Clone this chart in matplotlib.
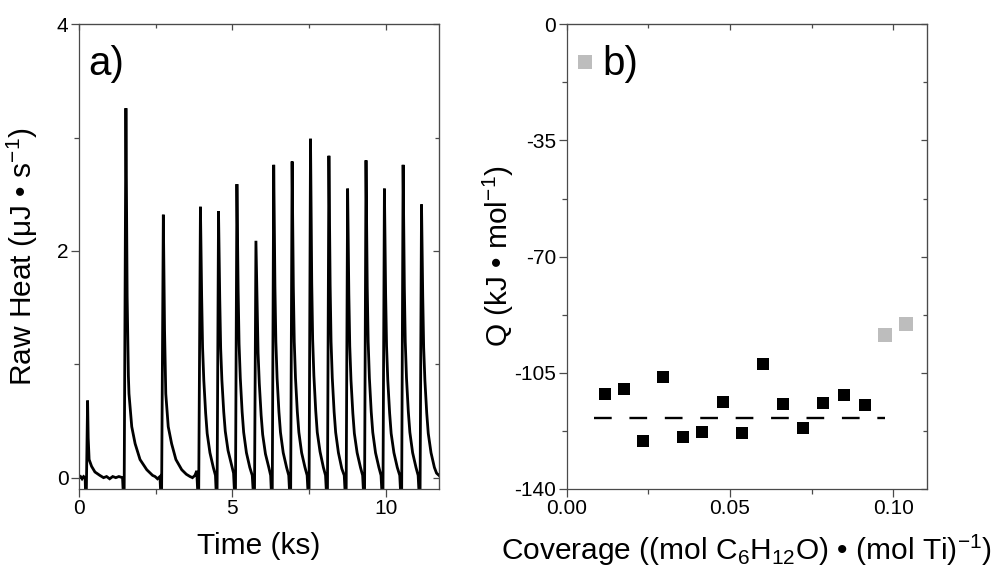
import numpy as np
import matplotlib
matplotlib.use("Agg")
import matplotlib.pyplot as plt
from matplotlib.ticker import MultipleLocator, FormatStrFormatter

plt.rcParams['font.family'] = ['Liberation Sans', 'DejaVu Sans']
plt.rcParams['mathtext.fontset'] = 'custom'
plt.rcParams['mathtext.rm'] = 'Liberation Sans'
plt.rcParams['mathtext.it'] = 'Liberation Sans:italic'
plt.rcParams['mathtext.bf'] = 'Liberation Sans:bold'
plt.rcParams['axes.unicode_minus'] = False

# ---- panel a: raw heat trace ----
time_ks = [
    0.00, 0.05, 0.10, 0.15, 0.20, 0.23,
    0.28, 0.30, 0.33, 0.41, 0.52, 0.68, 0.80, 0.90, 1.00, 1.10, 1.20, 1.30, 1.42, 1.47,
    1.53, 1.57, 1.61, 1.63, 1.72, 1.83, 1.99, 2.21, 2.40, 2.48, 2.56, 2.64, 2.69,
    2.75, 2.79, 2.83, 2.91, 3.02, 3.16, 3.35, 3.50, 3.62, 3.70, 3.78, 3.84, 3.90,
    3.96, 4.00, 4.03, 4.07, 4.13, 4.18, 4.27, 4.38, 4.45, 4.50,
    4.55, 4.59, 4.62, 4.66, 4.72, 4.77, 4.86, 4.97, 5.04, 5.10,
    5.15, 5.19, 5.22, 5.26, 5.32, 5.37, 5.46, 5.57, 5.65, 5.72,
    5.77, 5.81, 5.84, 5.88, 5.94, 5.99, 6.08, 6.19, 6.25, 6.30,
    6.35, 6.39, 6.42, 6.46, 6.52, 6.57, 6.66, 6.77, 6.84, 6.90,
    6.95, 6.99, 7.02, 7.06, 7.12, 7.17, 7.26, 7.37, 7.44, 7.50,
    7.55, 7.59, 7.62, 7.66, 7.72, 7.77, 7.86, 7.97, 8.04, 8.10,
    8.15, 8.19, 8.22, 8.26, 8.32, 8.37, 8.46, 8.57, 8.65, 8.71,
    8.76, 8.80, 8.83, 8.87, 8.93, 8.98, 9.07, 9.18, 9.25, 9.31,
    9.36, 9.40, 9.43, 9.47, 9.53, 9.58, 9.67, 9.78, 9.85, 9.91,
    9.96, 10.00, 10.03, 10.07, 10.13, 10.18, 10.27, 10.38, 10.46, 10.52,
    10.57, 10.61, 10.64, 10.68, 10.74, 10.79, 10.88, 10.99, 11.06, 11.12,
    11.17, 11.21, 11.24, 11.28, 11.34, 11.39, 11.48, 11.59, 11.66, 11.74,
]
raw_heat = [
    0.00, 0.01, -0.01, 0.01, 0.00, -0.30,
    0.68, 0.35, 0.16, 0.10, 0.05, 0.02, 0.00, 0.01, -0.01, 0.01, 0.00, 0.01, 0.00, -0.30,
    3.26, 1.60, 0.90, 0.74, 0.45, 0.30, 0.16, 0.07, 0.02, 0.01, -0.01, 0.01, -0.30,
    2.32, 1.30, 0.74, 0.45, 0.30, 0.16, 0.07, 0.03, 0.01, 0.00, 0.02, 0.06, -0.30,
    2.39, 1.60, 1.15, 0.86, 0.57, 0.39, 0.22, 0.09, 0.02, -0.30,
    2.35, 1.58, 1.14, 0.86, 0.58, 0.41, 0.24, 0.12, 0.04, -0.30,
    2.59, 1.65, 1.18, 0.88, 0.58, 0.40, 0.22, 0.09, 0.02, -0.30,
    2.09, 1.50, 1.10, 0.83, 0.55, 0.38, 0.21, 0.09, 0.02, -0.30,
    2.76, 1.68, 1.20, 0.88, 0.58, 0.40, 0.22, 0.09, 0.02, -0.30,
    2.79, 1.68, 1.20, 0.88, 0.58, 0.40, 0.22, 0.09, 0.02, -0.30,
    2.99, 1.72, 1.22, 0.90, 0.59, 0.40, 0.23, 0.09, 0.02, -0.30,
    2.84, 1.70, 1.20, 0.88, 0.58, 0.40, 0.22, 0.08, 0.02, -0.30,
    2.55, 1.62, 1.16, 0.86, 0.57, 0.39, 0.22, 0.09, 0.02, -0.30,
    2.80, 1.68, 1.20, 0.88, 0.58, 0.40, 0.22, 0.09, 0.02, -0.30,
    2.55, 1.62, 1.16, 0.86, 0.57, 0.39, 0.22, 0.09, 0.02, -0.30,
    2.76, 1.68, 1.20, 0.88, 0.58, 0.40, 0.22, 0.09, 0.02, -0.30,
    2.41, 1.60, 1.15, 0.86, 0.57, 0.39, 0.22, 0.09, 0.04, 0.02,
]

# ---- panel b: differential heats ----
cov_black = [0.0117, 0.0176, 0.0235, 0.0295, 0.0355, 0.0415, 0.0477,
             0.0537, 0.0600, 0.0661, 0.0722, 0.0785, 0.0849, 0.0913]
q_black = [-111.4, -110.0, -125.5, -106.2, -124.4, -122.7, -113.8,
           -123.2, -102.4, -114.3, -121.5, -114.0, -111.7, -114.6]
cov_gray = [0.0057, 0.0973, 0.1037]
q_gray = [-11.4, -93.5, -90.2]
avg_cov = [0.0085, 0.0974]
avg_q = [-118.5, -118.5]

spine_col = '#4a4a4a'
tick_fs = 15
label_fs = 21.5

fig = plt.figure(figsize=(9.95, 5.69), dpi=100)
ax1 = fig.add_axes([0.0794, 0.1406, 0.3618, 0.8167])
ax2 = fig.add_axes([0.5695, 0.1406, 0.3619, 0.8167])


def style_axes(ax, xmaj, xmin, ymaj, ymin):
    for s in ax.spines.values():
        s.set_color(spine_col)
        s.set_linewidth(0.9)
    ax.xaxis.set_major_locator(MultipleLocator(xmaj))
    ax.xaxis.set_minor_locator(MultipleLocator(xmin))
    ax.yaxis.set_major_locator(MultipleLocator(ymaj))
    ax.yaxis.set_minor_locator(MultipleLocator(ymin))
    ax.tick_params(which='both', direction='out', color=spine_col, width=0.9,
                   labelsize=tick_fs, pad=2)
    ax.tick_params(which='major', length=5.5)
    ax.tick_params(which='minor', length=3.5)
    # mirrored ticks pointing inward on top/right
    top = ax.secondary_xaxis('top')
    top.xaxis.set_major_locator(MultipleLocator(xmaj))
    top.xaxis.set_minor_locator(MultipleLocator(xmin))
    top.tick_params(which='both', direction='in', color=spine_col, width=0.9,
                    labeltop=False)
    top.tick_params(which='major', length=4)
    top.tick_params(which='minor', length=3)
    top.spines['top'].set_color(spine_col)
    right = ax.secondary_yaxis('right')
    right.yaxis.set_major_locator(MultipleLocator(ymaj))
    right.yaxis.set_minor_locator(MultipleLocator(ymin))
    right.tick_params(which='both', direction='in', color=spine_col, width=0.9,
                      labelright=False)
    right.tick_params(which='major', length=4)
    right.tick_params(which='minor', length=3)
    right.spines['right'].set_color(spine_col)


# panel a
ax1.plot(time_ks, raw_heat, color='black', lw=2.0, solid_joinstyle='miter')
ax1.set_xlim(0, 11.74)
ax1.set_ylim(-0.1, 4)
style_axes(ax1, 5, 2.5, 2, 1)
ax1.set_xlabel('Time (ks)', fontsize=label_fs, labelpad=10)
ax1.set_ylabel(r'Raw Heat (μJ • s$^{-1}$)', fontsize=label_fs, labelpad=12)
ax1.text(0.026, 0.955, 'a)', transform=ax1.transAxes, fontsize=29,
         ha='left', va='top')

# panel b
ax2.plot(avg_cov, avg_q, color='black', lw=1.7, dashes=(7.5, 7.5))
ax2.plot(cov_black, q_black, 's', color='black', ms=9.2, mew=0)
ax2.plot(cov_gray, q_gray, 's', color='#bdbdbd', ms=9.5, mew=0)
ax2.set_xlim(0, 0.1102)
ax2.set_ylim(-140, 0)
style_axes(ax2, 0.05, 0.025, 35, 17.5)
ax2.xaxis.set_major_formatter(FormatStrFormatter('%.2f'))
ax2.set_xlabel(r'Coverage ((mol C$_6$H$_{12}$O) • (mol Ti)$^{-1}$)',
               fontsize=label_fs, labelpad=10)
ax2.set_ylabel(r'Q (kJ • mol$^{-1}$)', fontsize=label_fs, labelpad=-1)
ax2.text(0.1, 0.955, 'b)', transform=ax2.transAxes, fontsize=29,
         ha='left', va='top')

fig.savefig('out.png', dpi=100)
